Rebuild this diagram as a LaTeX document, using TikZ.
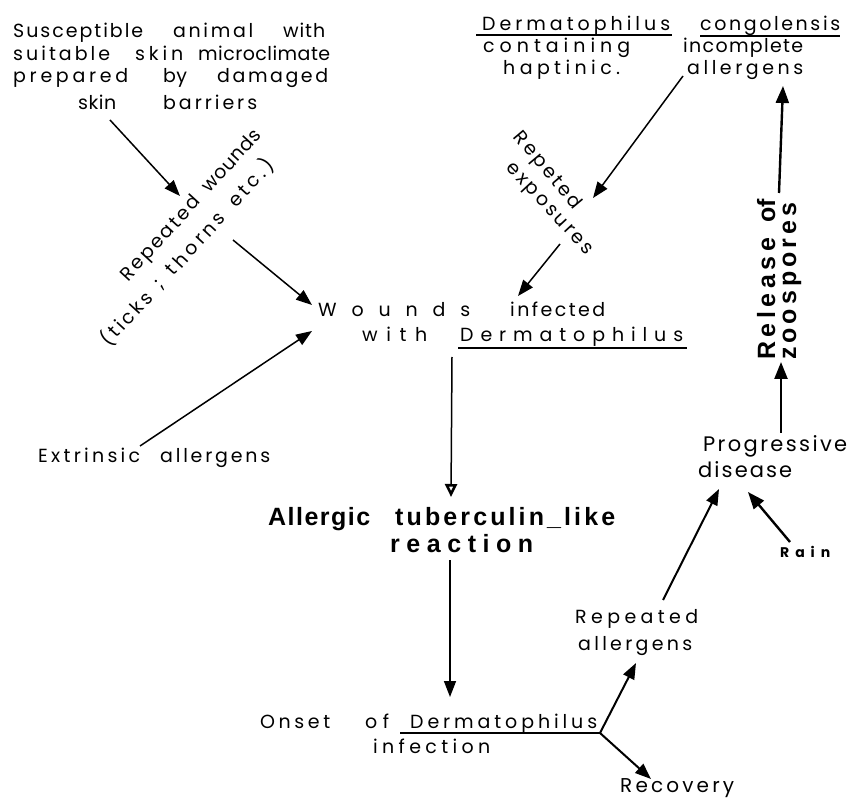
\documentclass[tikz,border=0pt]{standalone}
\usepackage{fontspec}
\setmainfont{Poppins}
\newfontfamily\gf{Poppins}
\newfontfamily\gfb{Poppins Bold}
\newfontfamily\lb{Liberation Sans Bold}
\usetikzlibrary{arrows.meta}
\makeatletter
\def\spr#1{\spr@a#1\@nil}
\def\spr@a#1{\ifx#1\@nil\else#1\expandafter\spr@b\fi}
\def\spr@b#1{\ifx#1\@nil\else\hfil#1\expandafter\spr@b\fi}
\makeatother
\newcommand\sw[2]{\hbox to #1pt{\spr{#2}}}
\tikzset{
  txt/.style={inner sep=0pt, anchor=base west, font=\gf\fontsize{19}{22}\selectfont},
  btxt/.style={inner sep=0pt, anchor=base west, font=\lb\fontsize{25}{29}\selectfont},
  rtxt/.style={inner sep=0pt, anchor=center, font=\gf\fontsize{19}{22}\selectfont},
  arr/.style={line width=1.5pt, -{Triangle[length=16pt,width=12pt]}},
  marr/.style={line width=2pt, -{Triangle[length=16pt,width=12pt]}},
  tarr/.style={line width=2.4pt, -{Triangle[length=17pt,width=13pt]}},
  oarr/.style={line width=1.5pt, -{Triangle[open,length=13pt,width=12pt,line width=2.6pt,fill=white]}},
  uline/.style={line width=1.3pt},
}
\begin{document}
\begin{tikzpicture}[x=1pt,y=-1pt]
\useasboundingbox (0,0) rectangle (849,799);
\fill[white] (0,0) rectangle (849,799);
% top-left block
\node[txt] (s1) at (13,38) {\sw{130}{Susceptible}\hskip30pt\sw{80}{animal}\hskip30pt\sw{42}{with}};
\node[txt] (s2) at (13,61) {\sw{97}{suitable}\hskip25pt\sw{48}{skin}\hskip15pt\sw{132}{microclimate}};
\node[txt] (s3) at (13,83) {\sw{115}{prepared}\hskip35pt\sw{24}{by}\hskip30pt\sw{111}{damaged}};
\node[txt] (s4) at (78,110) {\sw{38}{skin}\hskip47pt\sw{94}{barriers}};
% top-right block
\node[txt] (td) at (482,31) {\sw{188}{Dermatophilus}};
\node[txt] (tc) at (700,31) {\sw{140}{congolensis}};
\node[txt] (tcont) at (483,53) {\sw{147}{containing}};
\node[txt] (tinc) at (683,53) {\sw{120}{incomplete}};
\node[txt] (thap) at (503,75) {\sw{117}{haptinic.}};
\node[txt] (tall) at (687,75) {\sw{116}{allergens}};
% rotated labels
\node[rtxt, rotate=47.5] (rw1) at (192,206) {\sw{108}{Repeated}\hskip12pt\sw{78}{wounds}};
\node[rtxt, rotate=47.5] (rw2) at (187,252) {\sw{66}{(ticks}\hskip12pt\sw{6}{;}\hskip12pt\sw{78}{thorns}\hskip14pt\sw{58}{etc.)}};
\node[rtxt, rotate=-50] (re1) at (547,171) {\sw{95}{Repeted}};
\node[rtxt, rotate=-47] (re2) at (548,210) {\sw{119}{exposures}};
% wounds
\node[txt] (w1) at (318,317) {\sw{152}{Wounds}\hskip40pt\sw{95}{infected}};
\node[txt] (w2) at (362,342) {\sw{65}{with}};
\node[txt] (w3) at (460,342) {\sw{223}{Dermatophilus}};
% extrinsic
\node[txt] (ex) at (38,462) {\sw{102}{Extrinsic}\hskip20pt\sw{110}{allergens}};
% allergic
\node[btxt] (al1) at (268,525) {\sw{102}{Allergic}\hskip25pt\sw{220}{tuberculin\_like}};
\node[btxt] (al2) at (390,552) {\sw{143}{reaction}};
% onset
\node[txt] (on1) at (260,728) {\sw{70}{Onset}\hskip35pt\sw{24}{of}};
\node[txt] (on2) at (410,728) {\sw{187}{Dermatophilus}};
\node[txt] (on3) at (373,753) {\sw{117}{infection}};
% repeated allergens
\node[txt] (ra1) at (575,623) {\sw{123}{Repeated}};
\node[txt] (ra2) at (578,650) {\sw{114}{allergens}};
% recovery
\node[txt, font=\gf\fontsize{20}{22}\selectfont] (rec) at (620,792) {\sw{114}{Recovery}};
% progressive
\node[txt, font=\gf\fontsize{21}{24}\selectfont] (pd1) at (703,452) {\sw{144}{Progressive}};
\node[txt, font=\gf\fontsize{21}{24}\selectfont] (pd2) at (698,477) {\sw{94}{disease}};
% rain
\node[txt, font=\gfb\fontsize{14}{16}\selectfont] (rain) at (780,557) {\sw{50}{Rain}};
% release
\node[btxt, rotate=90] (rz1) at (775,360) {\sw{122}{Release}\hskip15pt\sw{23}{of}};
\node[btxt, rotate=90] (rz2) at (796,360) {\sw{157}{zoospores}};
% underlines
\draw[uline] ([xshift=-6pt,yshift=-4pt]td.base west) -- ([xshift=2pt,yshift=-4pt]td.base east);
\draw[uline] ([yshift=-5pt]tc.base west) -- ([yshift=-5pt]tc.base east);
\draw[uline] ([xshift=-2pt,yshift=-6pt]w3.base west) -- ([xshift=4pt,yshift=-6pt]w3.base east);
\draw[uline] ([xshift=-10pt,yshift=-5pt]on2.base west) -- ([xshift=3pt,yshift=-5pt]on2.base east);
% connector end points
\coordinate (a1s) at (110,120); \coordinate (a1e) at (180,196);
\coordinate (a2s) at (233,240); \coordinate (a2e) at (312,305);
\coordinate (a3s) at (140,446); \coordinate (a3e) at (312,331);
\coordinate (a4s) at (683,76);  \coordinate (a4e) at (593,198);
\coordinate (a5s) at (560,244); \coordinate (a5e) at (518,296);
\coordinate (a6s) at (452,357); \coordinate (a6e) at (451,497);
\coordinate (a7s) at (450,560); \coordinate (a7e) at (450,697);
\coordinate (br)  at (600,733);
\coordinate (a8e) at (636,663);
\coordinate (a9e) at (651,779);
\coordinate (a10s) at (663,600); \coordinate (a10e) at (719,489);
\coordinate (a11s) at (790,542); \coordinate (a11e) at (748,492);
\coordinate (a12s) at (781,433); \coordinate (a12e) at (781,362);
\coordinate (a13s) at (779,193); \coordinate (a13e) at (783,86);
% connectors
\draw[arr] (a1s) -- (a1e);
\draw[arr] (a2s) -- (a2e);
\draw[arr] (a3s) -- (a3e);
\draw[arr] (a4s) -- (a4e);
\draw[arr] (a5s) -- (a5e);
\draw[oarr] (a6s) -- (a6e);
\draw[arr] (a7s) -- (a7e);
\draw[marr] (br) -- (a8e);
\draw[marr] (br) -- (a9e);
\draw[marr] (a10s) -- (a10e);
\draw[tarr] (a11s) -- (a11e);
\draw[tarr] (a12s) -- (a12e);
\draw[tarr] (a13s) -- (a13e);
\end{tikzpicture}
\end{document}
